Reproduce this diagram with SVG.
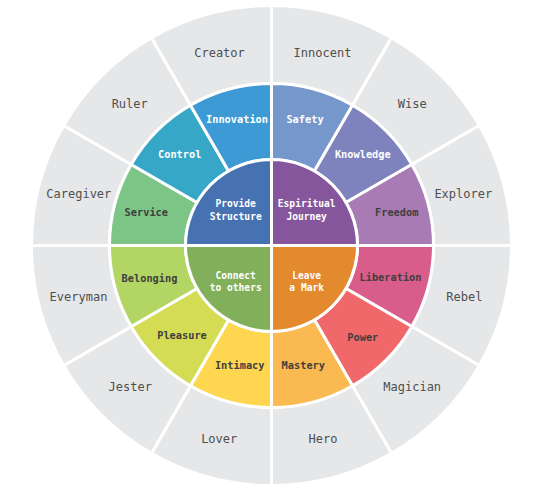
<svg xmlns="http://www.w3.org/2000/svg" width="542" height="492" viewBox="0 0 542 492">
<style>
.seg{stroke:#ffffff;stroke-width:3;stroke-linejoin:miter}
.outer{fill:#e6e7e8}
.t-out{font-family:"DejaVu Sans Mono","Liberation Mono",monospace;font-size:12px;fill:#4f4f4f;text-anchor:middle}
.t-mid{font-family:"DejaVu Sans Mono","Liberation Mono",monospace;font-size:10.3px;font-weight:bold;text-anchor:middle}
.t-in{font-family:"DejaVu Sans Mono","Liberation Mono",monospace;font-size:9.6px;font-weight:bold;fill:#ffffff;text-anchor:middle}
.w{fill:#ffffff}
.d{fill:#3f3f3f}
</style>
<rect width="542" height="492" fill="#ffffff"/>
<g id="outer-ring">
<g id="innocent"><path class="seg outer" d="M271.5,5.5 A240,240 0 0 1 391.5,37.654 L352.5,105.204 A162,162 0 0 0 271.5,83.5 Z"/><text class="t-out" x="322.5" y="56.7">Innocent</text></g>
<g id="wise"><path class="seg outer" d="M391.5,37.654 A240,240 0 0 1 479.346,125.5 L411.796,164.5 A162,162 0 0 0 352.5,105.204 Z"/><text class="t-out" x="412.2" y="108.3">Wise</text></g>
<g id="explorer"><path class="seg outer" d="M479.346,125.5 A240,240 0 0 1 511.5,245.5 L433.5,245.5 A162,162 0 0 0 411.796,164.5 Z"/><text class="t-out" x="463.3" y="198">Explorer</text></g>
<g id="rebel"><path class="seg outer" d="M511.5,245.5 A240,240 0 0 1 479.346,365.5 L411.796,326.5 A162,162 0 0 0 433.5,245.5 Z"/><text class="t-out" x="464.3" y="301.3">Rebel</text></g>
<g id="magician"><path class="seg outer" d="M479.346,365.5 A240,240 0 0 1 391.5,453.346 L352.5,385.796 A162,162 0 0 0 411.796,326.5 Z"/><text class="t-out" x="412.2" y="390.7">Magician</text></g>
<g id="hero"><path class="seg outer" d="M391.5,453.346 A240,240 0 0 1 271.5,485.5 L271.5,407.5 A162,162 0 0 0 352.5,385.796 Z"/><text class="t-out" x="323" y="443">Hero</text></g>
<g id="lover"><path class="seg outer" d="M271.5,485.5 A240,240 0 0 1 151.5,453.346 L190.5,385.796 A162,162 0 0 0 271.5,407.5 Z"/><text class="t-out" x="219.2" y="443">Lover</text></g>
<g id="jester"><path class="seg outer" d="M151.5,453.346 A240,240 0 0 1 63.654,365.5 L131.204,326.5 A162,162 0 0 0 190.5,385.796 Z"/><text class="t-out" x="130.3" y="390.7">Jester</text></g>
<g id="everyman"><path class="seg outer" d="M63.654,365.5 A240,240 0 0 1 31.5,245.5 L109.5,245.5 A162,162 0 0 0 131.204,326.5 Z"/><text class="t-out" x="78.5" y="301.3">Everyman</text></g>
<g id="caregiver"><path class="seg outer" d="M31.5,245.5 A240,240 0 0 1 63.654,125.5 L131.204,164.5 A162,162 0 0 0 109.5,245.5 Z"/><text class="t-out" x="78.8" y="198">Caregiver</text></g>
<g id="ruler"><path class="seg outer" d="M63.654,125.5 A240,240 0 0 1 151.5,37.654 L190.5,105.204 A162,162 0 0 0 131.204,164.5 Z"/><text class="t-out" x="129.7" y="108.3">Ruler</text></g>
<g id="creator"><path class="seg outer" d="M151.5,37.654 A240,240 0 0 1 271.5,5.5 L271.5,83.5 A162,162 0 0 0 190.5,105.204 Z"/><text class="t-out" x="219.5" y="57.3">Creator</text></g>
</g>
<g id="middle-ring">
<g id="safety"><path class="seg" fill="#7597cc" d="M271.5,83.5 A162,162 0 0 1 352.5,105.204 L314.5,171.022 A86,86 0 0 0 271.5,159.5 Z"/><text class="t-mid w" x="305" y="122.5">Safety</text></g>
<g id="knowledge"><path class="seg" fill="#7e82bd" d="M352.5,105.204 A162,162 0 0 1 411.796,164.5 L345.978,202.5 A86,86 0 0 0 314.5,171.022 Z"/><text class="t-mid w" x="362.8" y="157.8">Knowledge</text></g>
<g id="freedom"><path class="seg" fill="#a97bb5" d="M411.796,164.5 A162,162 0 0 1 433.5,245.5 L357.5,245.5 A86,86 0 0 0 345.978,202.5 Z"/><text class="t-mid d" x="396.7" y="215.8">Freedom</text></g>
<g id="liberation"><path class="seg" fill="#d95d8b" d="M433.5,245.5 A162,162 0 0 1 411.796,326.5 L345.978,288.5 A86,86 0 0 0 357.5,245.5 Z"/><text class="t-mid d" x="390.5" y="281.2">Liberation</text></g>
<g id="power"><path class="seg" fill="#f0686a" d="M411.796,326.5 A162,162 0 0 1 352.5,385.796 L314.5,319.978 A86,86 0 0 0 345.978,288.5 Z"/><text class="t-mid d" x="362.8" y="341.2">Power</text></g>
<g id="mastery"><path class="seg" fill="#fbb951" d="M352.5,385.796 A162,162 0 0 1 271.5,407.5 L271.5,331.5 A86,86 0 0 0 314.5,319.978 Z"/><text class="t-mid d" x="303.3" y="368.5">Mastery</text></g>
<g id="intimacy"><path class="seg" fill="#fed650" d="M271.5,407.5 A162,162 0 0 1 190.5,385.796 L228.5,319.978 A86,86 0 0 0 271.5,331.5 Z"/><text class="t-mid d" x="239.7" y="368.5">Intimacy</text></g>
<g id="pleasure"><path class="seg" fill="#d4dc54" d="M190.5,385.796 A162,162 0 0 1 131.204,326.5 L197.022,288.5 A86,86 0 0 0 228.5,319.978 Z"/><text class="t-mid d" x="182" y="339.2">Pleasure</text></g>
<g id="belonging"><path class="seg" fill="#b2d564" d="M131.204,326.5 A162,162 0 0 1 109.5,245.5 L185.5,245.5 A86,86 0 0 0 197.022,288.5 Z"/><text class="t-mid d" x="149.5" y="281.8">Belonging</text></g>
<g id="service"><path class="seg" fill="#7cc587" d="M109.5,245.5 A162,162 0 0 1 131.204,164.5 L197.022,202.5 A86,86 0 0 0 185.5,245.5 Z"/><text class="t-mid d" x="146.3" y="215.8">Service</text></g>
<g id="control"><path class="seg" fill="#36a7c7" d="M131.204,164.5 A162,162 0 0 1 190.5,105.204 L228.5,171.022 A86,86 0 0 0 197.022,202.5 Z"/><text class="t-mid w" x="179.7" y="157.5">Control</text></g>
<g id="innovation"><path class="seg" fill="#3e9ad4" d="M190.5,105.204 A162,162 0 0 1 271.5,83.5 L271.5,159.5 A86,86 0 0 0 228.5,171.022 Z"/><text class="t-mid w" x="237" y="122.5">Innovation</text></g>
</g>
<g id="inner-circle">
<g id="espiritual-journey"><path class="seg" fill="#86569c" d="M271.5,245.5 L271.5,159.5 A86,86 0 0 1 357.5,245.5 Z"/><text class="t-in" x="306.7" y="206.8">Espiritual</text><text class="t-in" x="306.7" y="220.2">Journey</text></g>
<g id="leave-a-mark"><path class="seg" fill="#e3892e" d="M271.5,245.5 L357.5,245.5 A86,86 0 0 1 271.5,331.5 Z"/><text class="t-in" x="306.7" y="278.5">Leave</text><text class="t-in" x="306.7" y="291.2">a Mark</text></g>
<g id="connect-to-others"><path class="seg" fill="#82b05a" d="M271.5,245.5 L271.5,331.5 A86,86 0 0 1 185.5,245.5 Z"/><text class="t-in" x="235.7" y="278.5">Connect</text><text class="t-in" x="235.7" y="291.2">to others</text></g>
<g id="provide-structure"><path class="seg" fill="#4672b2" d="M271.5,245.5 L185.5,245.5 A86,86 0 0 1 271.5,159.5 Z"/><text class="t-in" x="235.7" y="206.8">Provide</text><text class="t-in" x="235.7" y="220.2">Structure</text></g>
</g>
<g id="connectors"/>
</svg>
